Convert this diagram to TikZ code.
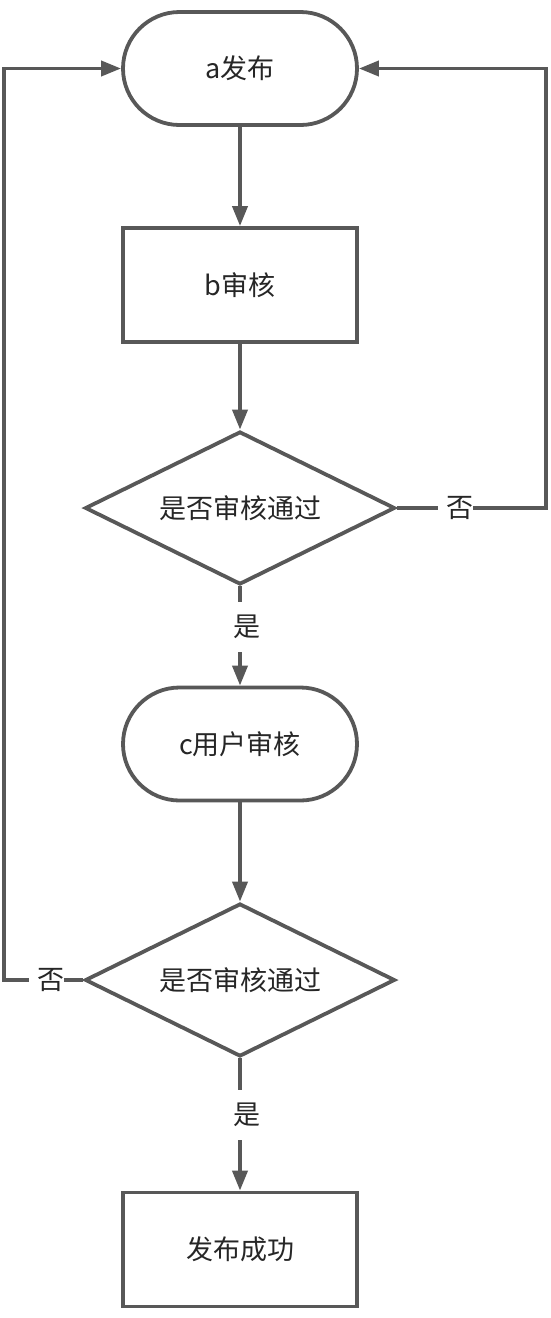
\documentclass[tikz,border=0pt]{standalone}
\usepackage{fontspec}
\setmainfont{Noto Sans CJK SC}
\usepackage{tikz}
\usetikzlibrary{shapes.geometric,arrows.meta}
\definecolor{linegray}{RGB}{88,88,88}
\definecolor{textgray}{RGB}{38,38,38}

\begin{document}
\begin{tikzpicture}[x=1pt,y=-1pt,
  every node/.style={font=\fontsize{27}{30}\selectfont,text=textgray},
  conn/.style={draw=linegray,line width=3.8pt},
  arr/.style={conn,-{Triangle[length=20pt,width=15pt]}},
  proc/.style={conn,rectangle,minimum width=234pt,minimum height=114pt},
  term/.style={proc,minimum height=113pt,rounded corners=56.5pt},
  decide/.style={conn,diamond,aspect=2.03,minimum width=310pt,minimum height=153pt,inner sep=0pt},
  lbl/.style={inner sep=0pt,minimum height=50pt}]
  \useasboundingbox (0,0) rectangle (550,1318);
  % main column
  \node[term] (pub) at (240,68.5) {a发布};
  \node[proc] (rev) at (240,285) {b审核};
  \node[decide] (chk1) at (240,508) {是否审核通过};
  \node[term] (user) at (240,744) {c用户审核};
  \node[decide] (chk2) at (240,980) {是否审核通过};
  \node[proc] (done) at (240,1249.5) {发布成功};
  % branch labels
  \node[lbl] (no1) at (455.5,508) {\hspace*{8pt}否};
  \node[lbl] (no2) at (46.5,980) {\hspace*{8pt}否};
  \node[lbl] (yes1) at (247,627) {是};
  \node[lbl] (yes2) at (247,1115) {是};
  \coordinate (rback) at (546,68.5);
  \coordinate (lback) at (4,68.5);
  \draw[arr] (pub) -- (rev);
  \draw[arr] (rev) -- (chk1);
  \draw[conn] (chk1.south) -- (chk1.south |- yes1.north);
  \draw[arr] (chk1.south |- yes1.south) -- (user.north);
  \draw[arr] (user) -- (chk2);
  \draw[conn] (chk2.south) -- (chk2.south |- yes2.north);
  \draw[arr] (chk2.south |- yes2.south) -- (done.north);
  % loops back to the start
  \draw[conn] (chk1.east) -- (no1.west);
  \draw[arr] (no1.east) -| (rback) -- (pub.east);
  \draw[conn] (chk2.west) -- (no2.east);
  \draw[arr] (no2.west) -| (lback) -- (pub.west);
\end{tikzpicture}
\end{document}
